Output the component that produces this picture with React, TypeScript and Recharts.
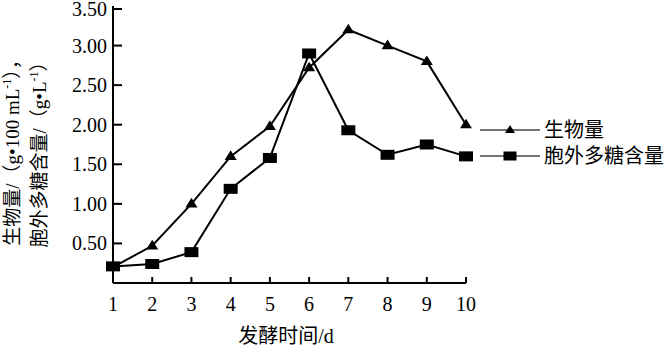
import React from "react";
import { LineChart, Line, XAxis, YAxis, Legend } from "recharts";

const days = [1, 2, 3, 4, 5, 6, 7, 8, 9, 10];
const biomass = [0.2, 0.47, 1.0, 1.6, 1.98, 2.72, 3.2, 3.0, 2.8, 2.0];
const eps = [0.21, 0.24, 0.39, 1.19, 1.58, 2.9, 1.93, 1.62, 1.75, 1.6];
const yTicks = [0.5, 1.0, 1.5, 2.0, 2.5, 3.0, 3.5];

const data = days.map((d, i) => ({ day: d, biomass: biomass[i], eps: eps[i] }));

const FONT = "'Liberation Serif', 'Times New Roman', 'Noto Sans CJK SC', serif";

const Triangle = (props: any) => {
  const { cx, cy, size = 6 } = props;
  if (cx == null || cy == null) return null;
  return (
    <path
      d={`M${cx},${cy - size} L${cx + size},${cy + size * 0.6} L${cx - size},${cy + size * 0.6} Z`}
      fill="#000"
    />
  );
};

const Square = (props: any) => {
  const { cx, cy, w = 14, h = 10 } = props;
  if (cx == null || cy == null) return null;
  return <rect x={cx - w / 2} y={cy - h / 2} width={w} height={h} fill="#000" />;
};

const YTick = (props: any) => {
  const { x, y, payload } = props;
  return (
    <g>
      <line x1={x} x2={x + 9} y1={y} y2={y} stroke="#000" strokeWidth={2} />
      <text x={x - 6} y={y} dy={7} textAnchor="end" fontSize={20} fontFamily={FONT} fill="#000">
        {payload.value.toFixed(2)}
      </text>
    </g>
  );
};

const XTick = (props: any) => {
  const { x, y, payload } = props;
  return (
    <g>
      <line x1={x} x2={x} y1={y} y2={y - 6} stroke="#000" strokeWidth={2} />
      <text x={x} y={y + 28} textAnchor="middle" fontSize={20} fontFamily={FONT} fill="#000">
        {payload.value}
      </text>
    </g>
  );
};

const YLabel = () => (
  <g fontFamily={FONT} fontSize={19} fill="#000">
    <text transform="translate(19,148) rotate(-90)" textAnchor="middle">
      生物量/（g•100 mL<tspan dy={-8} fontSize={12}>-1</tspan>
      <tspan dy={8}>），</tspan>
    </text>
    <text transform="translate(46,150) rotate(-90)" textAnchor="middle">
      胞外多糖含量/（g•L<tspan dy={-8} fontSize={12}>-1</tspan>
      <tspan dy={8}>）</tspan>
    </text>
  </g>
);

const XLabel = () => (
  <text x={286} y={343} textAnchor="middle" fontFamily={FONT} fontSize={20} fill="#000">
    发酵时间/d
  </text>
);

const LegendContent = (props: any) => {
  const { payload } = props;
  return (
    <div style={{ fontFamily: FONT, fontSize: 20, lineHeight: "26px" }}>
      {(payload || []).map((item: any) => (
        <div key={item.dataKey} style={{ display: "flex", alignItems: "center", height: 26 }}>
          <svg width={64} height={20}>
            <line x1={0} x2={60} y1={10} y2={10} stroke="#444" strokeWidth={1.5} />
            {item.dataKey === "biomass" ? (
              <Triangle cx={30} cy={10} size={5} />
            ) : (
              <Square cx={30} cy={10} w={13} h={9} />
            )}
          </svg>
          <span>{item.value}</span>
        </div>
      ))}
    </div>
  );
};

export default function App() {
  return (
    <div style={{ position: "absolute", left: 0, top: 0 }}>
      <LineChart
        width={671}
        height={347}
        data={data}
        margin={{ top: 6, right: 205, bottom: 0, left: 0 }}
      >
        <XAxis
          dataKey="day"
          type="number"
          domain={[1, 10]}
          ticks={days}
          height={64}
          tickSize={0}
          tickMargin={0}
          tickLine={false}
          axisLine={{ stroke: "#000", strokeWidth: 2 }}
          tick={<XTick />}
          label={<XLabel />}
        />
        <YAxis
          type="number"
          domain={[0, 3.5]}
          ticks={yTicks}
          width={113}
          tickSize={0}
          tickMargin={0}
          tickLine={false}
          axisLine={{ stroke: "#000", strokeWidth: 2 }}
          tick={<YTick />}
          label={<YLabel />}
        />
        <Legend
          layout="vertical"
          align="center"
          verticalAlign="middle"
          content={<LegendContent />}
          wrapperStyle={{ position: "absolute", left: 480, top: 117, width: 191 }}
        />
        <Line
          name="生物量"
          dataKey="biomass"
          stroke="#000"
          strokeWidth={2}
          dot={<Triangle size={6} />}
          activeDot={false}
          isAnimationActive={false}
        />
        <Line
          name="胞外多糖含量"
          dataKey="eps"
          stroke="#000"
          strokeWidth={2}
          dot={<Square />}
          activeDot={false}
          isAnimationActive={false}
        />
      </LineChart>
    </div>
  );
}
